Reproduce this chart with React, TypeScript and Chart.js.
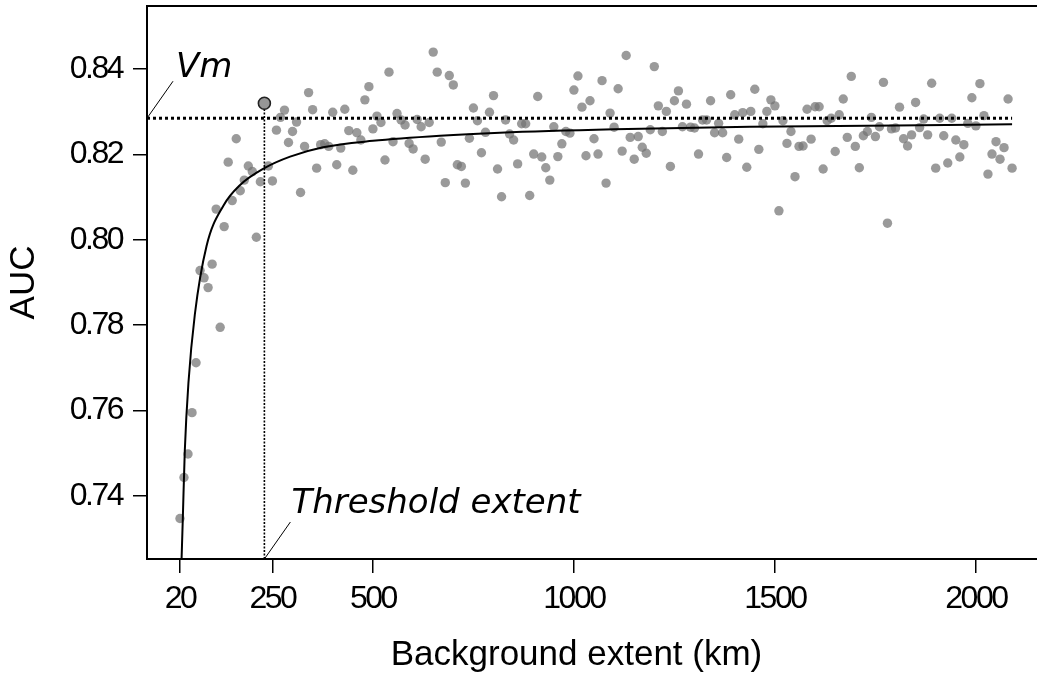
import React, { useEffect, useRef } from "react";
import { Chart, registerables } from "chart.js";

Chart.register(...registerables);

// Background extent (km) of every model run
const extentKm = [
  20, 30, 40, 50, 60, 70, 80, 90, 100, 110,
  120, 130, 140, 150, 160, 170, 180, 190, 200, 210,
  220, 230, 240, 250, 260, 270, 280, 290, 300, 310,
  320, 330, 340, 350, 360, 370, 380, 390, 400, 410,
  420, 430, 440, 450, 460, 470, 480, 490, 500, 510,
  520, 530, 540, 550, 560, 570, 580, 590, 600, 610,
  620, 630, 640, 650, 660, 670, 680, 690, 700, 710,
  720, 730, 740, 750, 760, 770, 780, 790, 800, 810,
  820, 830, 840, 850, 860, 870, 880, 890, 900, 910,
  920, 930, 940, 950, 960, 970, 980, 990, 1000, 1010,
  1020, 1030, 1040, 1050, 1060, 1070, 1080, 1090, 1100, 1110,
  1120, 1130, 1140, 1150, 1160, 1170, 1180, 1190, 1200, 1210,
  1220, 1230, 1240, 1250, 1260, 1270, 1280, 1290, 1300, 1310,
  1320, 1330, 1340, 1350, 1360, 1370, 1380, 1390, 1400, 1410,
  1420, 1430, 1440, 1450, 1460, 1470, 1480, 1490, 1500, 1510,
  1520, 1530, 1540, 1550, 1560, 1570, 1580, 1590, 1600, 1610,
  1620, 1630, 1640, 1650, 1660, 1670, 1680, 1690, 1700, 1710,
  1720, 1730, 1740, 1750, 1760, 1770, 1780, 1790, 1800, 1810,
  1820, 1830, 1840, 1850, 1860, 1870, 1880, 1890, 1900, 1910,
  1920, 1930, 1940, 1950, 1960, 1970, 1980, 1990, 2000, 2010,
  2020, 2030, 2040, 2050, 2060, 2070, 2080, 2090,
];

// AUC of every model run (same order as extentKm)
const aucValues = [
  0.7347, 0.7443, 0.7498, 0.7595, 0.7712, 0.7928, 0.7911, 0.7888, 0.7943, 0.8072,
  0.7795, 0.8031, 0.8182, 0.8092, 0.8237, 0.8115, 0.814, 0.8173, 0.816, 0.8006,
  0.8136, 0.832, 0.8173, 0.8138, 0.8257, 0.8287, 0.8304, 0.8228, 0.8254, 0.8276,
  0.8111, 0.8219, 0.8345, 0.8305, 0.8168, 0.8223, 0.8225, 0.8219, 0.8299, 0.8176,
  0.8215, 0.8306, 0.8256, 0.8163, 0.8251, 0.8234, 0.8328, 0.8359, 0.826, 0.829,
  0.8275, 0.8187, 0.8393, 0.823, 0.8296, 0.8281, 0.8269, 0.8226, 0.8213, 0.8282,
  0.8265, 0.8189, 0.8275, 0.844, 0.8393, 0.8229, 0.8134, 0.8385, 0.8363, 0.8176,
  0.8172, 0.8133, 0.8238, 0.8309, 0.8279, 0.8204, 0.8252, 0.8299, 0.8338, 0.8166,
  0.8101, 0.8281, 0.8248, 0.8234, 0.8178, 0.8272, 0.8272, 0.8104, 0.8201, 0.8336,
  0.8194, 0.8169, 0.814, 0.8265, 0.8195, 0.8225, 0.8254, 0.825, 0.8351, 0.8384,
  0.8311, 0.8197, 0.8326, 0.8237, 0.8201, 0.8373, 0.8133, 0.8297, 0.8264, 0.8354,
  0.8208, 0.8432, 0.824, 0.8189, 0.8242, 0.8217, 0.8203, 0.8258, 0.8406, 0.8314,
  0.8254, 0.8301, 0.8172, 0.8326, 0.8349, 0.8265, 0.8318, 0.8264, 0.8262, 0.8201,
  0.8281, 0.8281, 0.8326, 0.8251, 0.8273, 0.8251, 0.8193, 0.834, 0.8293, 0.8236,
  0.8298, 0.817, 0.8301, 0.8353, 0.8212, 0.8272, 0.8301, 0.8328, 0.8314, 0.8068,
  0.8279, 0.8226, 0.8254, 0.8148, 0.8219, 0.822, 0.8306, 0.8236, 0.8312, 0.8312,
  0.8166, 0.8279, 0.8285, 0.8207, 0.8293, 0.833, 0.824, 0.8383, 0.8219, 0.8169,
  0.8244, 0.8254, 0.8287, 0.8242, 0.8265, 0.8369, 0.8039, 0.826, 0.8262, 0.8311,
  0.8237, 0.822, 0.8246, 0.8322, 0.8263, 0.8283, 0.8246, 0.8367, 0.8168, 0.8285,
  0.8244, 0.818, 0.8285, 0.8234, 0.8194, 0.8223, 0.8273, 0.8333, 0.8267, 0.8366,
  0.8291, 0.8154, 0.8201, 0.823, 0.8189, 0.8216, 0.833, 0.8168,
];

// fitted saturation curve
const fitExtentKm = [24, 27, 32, 41, 57, 86, 128, 169, 230, 294, 376, 500, 667, 816, 1100, 1438, 1800, 2090];
const fitAuc = [
  0.7252, 0.7344, 0.7505, 0.7664, 0.7825, 0.7985, 0.808, 0.8128, 0.8168,
  0.8195, 0.8217, 0.8232, 0.8244, 0.8251, 0.8259, 0.8265, 0.8268, 0.8271,
];

const VM = 0.8285;
const THRESHOLD_KM = 230;

const xTicks = [20, 250, 500, 1000, 1500, 2000];
const yTicks = [0.74, 0.76, 0.78, 0.8, 0.82, 0.84];

const X_MIN = -62;
const X_MAX = 2152;
const Y_MIN = 0.7252;
const Y_MAX = 0.8548;

const TICK_FONT = { family: '"Liberation Sans", Arial, sans-serif', size: 32 };
const TITLE_FAMILY = '"Liberation Sans", Arial, sans-serif';

const annotationPlugin = {
  id: "annotations",
  afterDatasetsDraw(chart: any) {
    // tick labels (z = 1) are drawn after this hook: tighter tracking like the reference
    (chart.ctx as any).letterSpacing = "-2.5px";
  },
  afterDraw(chart: any) {
    const ctx = chart.ctx as any;
    ctx.letterSpacing = "0px";
    ctx.save();
    const { left, right, top, bottom } = chart.chartArea;
    const xs = chart.scales.x;
    const ys = chart.scales.y;

    // top frame line
    ctx.strokeStyle = "#000";
    ctx.lineWidth = 2;
    ctx.setLineDash([]);
    ctx.beginPath();
    ctx.moveTo(left - 1, top);
    ctx.lineTo(right, top);
    ctx.stroke();

    ctx.fillStyle = "#000";
    ctx.lineWidth = 1;
    ctx.font = 'italic 34px "DejaVu Sans", sans-serif';
    ctx.textAlign = "left";
    ctx.textBaseline = "alphabetic";

    // Vm label with leader line
    const vmY = ys.getPixelForValue(VM);
    ctx.beginPath();
    ctx.moveTo(left, vmY);
    ctx.lineTo(left + 26, vmY - 37);
    ctx.stroke();
    ctx.fillText("Vm", left + 29, vmY - 41);

    // Threshold extent label with leader line
    const thX = xs.getPixelForValue(THRESHOLD_KM);
    ctx.beginPath();
    ctx.moveTo(thX, bottom);
    ctx.lineTo(thX + 26, bottom - 37);
    ctx.stroke();
    ctx.fillText("Threshold extent", thX + 27, bottom - 45.7);

    // x axis title
    ctx.font = `35px ${TITLE_FAMILY}`;
    ctx.textAlign = "center";
    ctx.fillText("Background extent (km)", 576.5, 665);
    ctx.restore();
    ctx.letterSpacing = "0px";
  },
};

export default function App() {
  const canvasRef = useRef<HTMLCanvasElement | null>(null);

  useEffect(() => {
    document.body.style.margin = "0";
    const canvas = canvasRef.current;
    if (!canvas) return;

    const points = extentKm.map((x, i) => ({ x, y: aucValues[i] }));
    const thIdx = extentKm.indexOf(THRESHOLD_KM);
    const thAuc = aucValues[thIdx];
    const fit = fitExtentKm.map((x, i) => ({ x, y: fitAuc[i] }));

    const chart = new Chart(canvas, {
      type: "scatter",
      data: {
        datasets: [
          {
            label: "threshold point",
            data: [{ x: THRESHOLD_KM, y: thAuc }],
            pointRadius: 6,
            pointBackgroundColor: "rgb(150,150,150)",
            pointBorderColor: "#222",
            pointBorderWidth: 1.6,
            order: 0,
          },
          {
            label: "fit",
            data: fit,
            showLine: true,
            borderColor: "#000",
            borderWidth: 2,
            pointRadius: 0,
            cubicInterpolationMode: "monotone",
            order: 1,
          },
          {
            label: "Vm",
            data: [
              { x: X_MIN, y: VM },
              { x: extentKm[extentKm.length - 1], y: VM },
            ],
            showLine: true,
            borderColor: "#000",
            borderWidth: 3,
            borderDash: [3, 3],
            pointRadius: 0,
            order: 2,
          },
          {
            label: "threshold",
            data: [
              { x: THRESHOLD_KM, y: Y_MIN },
              { x: THRESHOLD_KM, y: thAuc },
            ],
            showLine: true,
            borderColor: "#000",
            borderWidth: 1.6,
            borderDash: [2, 1.5],
            pointRadius: 0,
            order: 3,
          },
          {
            label: "AUC",
            data: points,
            pointRadius: 4.7,
            pointBackgroundColor: "rgba(115,115,115,0.72)",
            pointBorderWidth: 0,
            order: 4,
          },
        ],
      },
      options: {
        animation: false,
        responsive: false,
        devicePixelRatio: 1,
        events: [],
        layout: { autoPadding: false, padding: { top: 6, left: 0, right: 0, bottom: 0 } },
        plugins: {
          legend: { display: false },
          tooltip: { enabled: false },
          title: { display: false },
        },
        scales: {
          x: {
            type: "linear",
            min: X_MIN,
            max: X_MAX,
            afterBuildTicks: (scale: any) => {
              scale.ticks = xTicks.map((value) => ({ value }));
            },
            afterFit: (scale: any) => {
              scale.height = 114;
              scale.paddingLeft = 0;
              scale.paddingRight = 0;
            },
            ticks: {
              z: 1,
              autoSkip: false,
              maxRotation: 0,
              font: TICK_FONT,
              color: "#000",
              padding: 7,
              callback: (v: any) => String(v),
            },
            grid: {
              display: true,
              drawOnChartArea: false,
              drawTicks: true,
              tickLength: 14,
              color: "#000",
              lineWidth: 1.5,
            },
            border: { display: true, color: "#000", width: 2 },
            title: { display: false },
          },
          y: {
            type: "linear",
            min: Y_MIN,
            max: Y_MAX,
            afterBuildTicks: (scale: any) => {
              scale.ticks = yTicks.map((value) => ({ value }));
            },
            afterFit: (scale: any) => {
              scale.width = 147;
              scale.paddingTop = 0;
              scale.paddingBottom = 0;
            },
            ticks: {
              z: 1,
              autoSkip: false,
              font: TICK_FONT,
              color: "#000",
              padding: 11,
              callback: (v: any) => Number(v).toFixed(2),
            },
            grid: {
              display: true,
              drawOnChartArea: false,
              drawTicks: true,
              tickLength: 14,
              color: "#000",
              lineWidth: 1.5,
            },
            border: { display: true, color: "#000", width: 2 },
            title: {
              display: true,
              text: "AUC",
              color: "#000",
              font: { family: TITLE_FAMILY, size: 35 },
              padding: { top: 3.5, bottom: 0 },
            },
          },
        },
      },
      plugins: [annotationPlugin],
    } as any);

    return () => {
      chart.destroy();
    };
  }, []);

  return (
    <div style={{ position: "fixed", left: 0, top: 0, width: 1037, height: 673, background: "#fff" }}>
      <canvas ref={canvasRef} width={1037} height={673} style={{ display: "block" }} />
    </div>
  );
}
